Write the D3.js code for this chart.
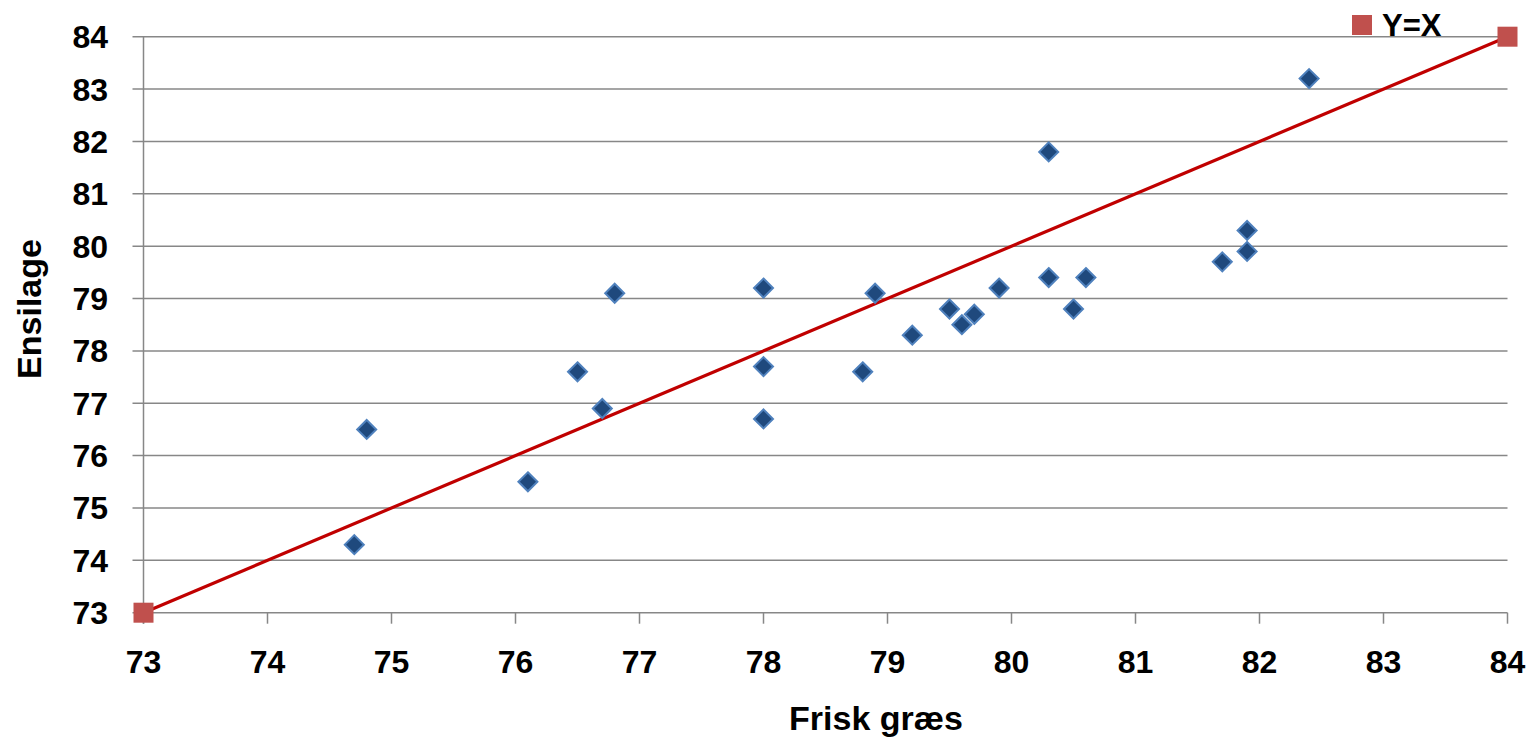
<!DOCTYPE html>
<html><head><meta charset="utf-8">
<script src="https://cdn.jsdelivr.net/npm/d3@7"></script>
<style>
html,body{margin:0;padding:0;background:#fff;}
svg text{font-family:"Liberation Sans",Arial,sans-serif;font-weight:bold;fill:#000;}
</style></head>
<body><svg id="c" width="1530" height="739"></svg>
<script>
const friskX = [74.7,74.8,76.1,76.5,76.7,76.8,78.0,78.0,78.0,78.8,78.9,79.2,79.5,79.6,79.7,79.9,80.3,80.3,80.5,80.6,81.7,81.9,81.9,82.4];
const ensilageY = [74.3,76.5,75.5,77.6,76.9,79.1,79.2,77.7,76.7,77.6,79.1,78.3,78.8,78.5,78.7,79.2,81.8,79.4,78.8,79.4,79.7,80.3,79.9,83.2];
const lineX = [73,84];
const lineY = [73,84];
const xTicks = [73,74,75,76,77,78,79,80,81,82,83,84];
const yTicks = [73,74,75,76,77,78,79,80,81,82,83,84];
const xTitle = "Frisk græs";
const yTitle = "Ensilage";
const legendLabel = "Y=X";

const svg = d3.select("#c");
const L=143.5, R=1507.5, T=36.7, B=612.7;
const x = d3.scaleLinear().domain([73,84]).range([L,R]);
const y = d3.scaleLinear().domain([73,84]).range([B,T]);
const grid="#878787";

svg.append("g").selectAll("line").data(yTicks).join("line")
  .attr("x1",L-11).attr("x2",R).attr("y1",d=>y(d)).attr("y2",d=>y(d))
  .attr("stroke",grid).attr("stroke-width",1.5);
svg.append("line").attr("x1",L).attr("x2",L).attr("y1",T).attr("y2",B+11)
  .attr("stroke",grid).attr("stroke-width",1.5);
svg.append("g").selectAll("line").data(xTicks).join("line")
  .attr("x1",d=>x(d)).attr("x2",d=>x(d)).attr("y1",B).attr("y2",B+11)
  .attr("stroke",grid).attr("stroke-width",1.5);

svg.append("g").selectAll("text").data(yTicks).join("text")
  .attr("x",108).attr("y",d=>y(d)).attr("dy","0.36em").attr("text-anchor","end")
  .attr("font-size",32).text(d=>d);
svg.append("g").selectAll("text").data(xTicks).join("text")
  .attr("x",d=>x(d)).attr("y",673).attr("text-anchor","middle")
  .attr("font-size",32).text(d=>d);

svg.append("text").attr("x",876).attr("y",730).attr("text-anchor","middle")
  .attr("font-size",34).text(xTitle);
svg.append("text").attr("transform","translate(41,309) rotate(-90)").attr("text-anchor","middle")
  .attr("font-size",34).text(yTitle);

const pts = lineX.map((v,i)=>[v,lineY[i]]);
svg.append("path").datum(pts)
  .attr("d",d3.line().x(d=>x(d[0])).y(d=>y(d[1])))
  .attr("fill","none").attr("stroke","#C00000").attr("stroke-width",3.2);
svg.append("g").selectAll("rect").data(pts).join("rect")
  .attr("x",d=>x(d[0])-10).attr("y",d=>y(d[1])-10).attr("width",20).attr("height",20)
  .attr("fill","#C0504D");

const data = friskX.map((v,i)=>[v,ensilageY[i]]);
svg.append("g").selectAll("path").data(data).join("path")
  .attr("d",d=>{const cx=x(d[0]),cy=y(d[1]),r=9.5;return `M${cx},${cy-r}L${cx+r},${cy}L${cx},${cy+r}L${cx-r},${cy}Z`;})
  .attr("fill","#1F497D").attr("stroke","#4F81BD").attr("stroke-width",2);

svg.append("rect").attr("x",1352).attr("y",15).attr("width",20).attr("height",20).attr("fill","#C0504D");
svg.append("text").attr("x",1382).attr("y",36).attr("font-size",31).text(legendLabel);
</script></body></html>
